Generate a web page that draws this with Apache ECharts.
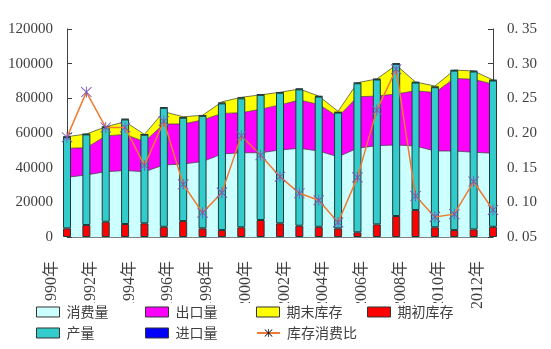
<!DOCTYPE html>
<html>
<head>
<meta charset="utf-8">
<script src="https://cdn.jsdelivr.net/npm/echarts@6/dist/echarts.min.js"></script>
<style>
  html, body { margin: 0; padding: 0; background: #fff; }
  #chart { width: 551px; height: 349px; }
</style>
</head>
<body>
<div id="chart"></div>
<script>
// Annual balance sheet, 1990-2012
const years = ['1990年','1991年','1992年','1993年','1994年','1995年','1996年','1997年','1998年','1999年','2000年','2001年','2002年','2003年','2004年','2005年','2006年','2007年','2008年','2009年','2010年','2011年','2012年'];

// demand side (stacked areas)
const consumption = [34400, 35800, 37700, 38300, 37700, 41500, 42100, 43500, 47900, 48600, 48600, 50200, 51200, 49600, 46300, 51200, 52700, 53100, 52500, 49600, 49600, 48900, 48300];
const exportsVol  = [16800, 15700, 20600, 20900, 17300, 23700, 23100, 24000, 23400, 23100, 25100, 26000, 27800, 26900, 23100, 29700, 28600, 29400, 31900, 33700, 41900, 42100, 39800];
const endStock    = [6700, 7900, 5300, 7300, 4200, 7100, 4200, 2700, 6700, 8900, 8300, 7300, 6400, 4800, 3100, 8100, 9900, 16700, 5000, 3800, 4800, 4800, 2500];

// supply side (stacked columns)
const initStock   = [5000, 6900, 8800, 7500, 7900, 5900, 9200, 5000, 4000, 5600, 9800, 7900, 6500, 5900, 5000, 2700, 7300, 12100, 15600, 5600, 4000, 4400, 5900];
const production  = [52700, 52300, 54600, 60300, 51100, 68600, 59600, 64900, 73100, 74400, 72200, 75300, 78700, 75100, 66800, 86000, 83600, 87700, 73500, 80800, 92000, 91100, 84400];
const importsVol  = [200, 200, 200, 300, 200, 300, 300, 300, 400, 600, 300, 300, 400, 300, 300, 300, 300, 400, 300, 300, 300, 300, 300];

// stock-to-use ratio (right axis)
const stockRatio  = [0.194, 0.259, 0.208, 0.208, 0.153, 0.217, 0.126, 0.085, 0.114, 0.196, 0.168, 0.137, 0.113, 0.103, 0.071, 0.136, 0.233, 0.292, 0.109, 0.079, 0.083, 0.130, 0.089];

const leftTicks = { min: 0, max: 120000, interval: 20000 };
const rightTicks = { min: 0.05, max: 0.35, interval: 0.05 };

const serif = "'Liberation Serif', 'Noto Sans CJK SC', serif";
const cjk = "'Noto Sans CJK SC', sans-serif";
const textColor = '#404040';
const asterisk = 'path://M9.2,0 L10.8,0 L10.8,20 L9.2,20 Z M0.4,1.6 L1.6,0.4 L19.6,18.4 L18.4,19.6 Z M18.4,0.4 L19.6,1.6 L1.6,19.6 L0.4,18.4 Z';

function areaSeries(name, data, color) {
  return {
    name, type: 'line', stack: 'demand', data,
    symbol: 'none', smooth: false,
    itemStyle: { color },
    lineStyle: { color: '#3a3a3a', width: 0.7 },
    areaStyle: { color, opacity: 1 },
    z: 1
  };
}
function barSeries(name, data, color) {
  return {
    name, type: 'bar', stack: 'supply', data,
    barWidth: 8,
    itemStyle: { color, borderColor: '#1d3b3b', borderWidth: 1 },
    z: 2
  };
}

// legend slots: [name, left, top]
const legendSlots = [
  ['消费量', 36, 305], ['出口量', 145, 305], ['期末库存', 256, 305], ['期初库存', 367, 305],
  ['产量', 36, 326], ['进口量', 145, 326], ['库存消费比', 256, 326]
];
const legends = legendSlots.map(([name, left, top]) => ({
  data: [name === '库存消费比' ? { name } : { name, icon: 'rect' }],
  left, top, padding: 0,
  itemWidth: 23, itemHeight: 10, itemGap: 0,
  itemStyle: name === '库存消费比' ? undefined : { borderColor: '#333', borderWidth: 1 },
  textStyle: { fontFamily: cjk, fontSize: 14, color: textColor, padding: [0, 0, 0, 2] },
  selectedMode: false,
  z: 60
}));

const option = {
  animation: false,
  backgroundColor: '#fff',
  grid: { left: 67, right: 58, top: 29, bottom: 112, containLabel: false },
  graphic: [{
    type: 'rect', left: 20, top: 303, z: 50,
    shape: { width: 440, height: 46 },
    style: { fill: '#fff' }
  }],
  legend: legends,
  xAxis: {
    type: 'category', data: years, boundaryGap: false,
    axisLine: { lineStyle: { color: '#808080', width: 1 } },
    axisTick: { inside: true, length: 4, interval: 0, lineStyle: { color: '#333' } },
    axisLabel: {
      interval: 1, rotate: 90, margin: 24,
      fontFamily: serif, fontSize: 16, color: textColor,
      verticalAlign: 'bottom', lineHeight: 30
    },
    splitLine: { show: false }
  },
  yAxis: [{
    type: 'value', ...leftTicks,
    axisLine: { show: true, lineStyle: { color: '#404040' } },
    axisTick: { show: true, inside: true, length: 5, lineStyle: { color: '#404040' } },
    axisLabel: {
      margin: 14, fontFamily: serif, fontSize: 15, color: textColor,
      formatter: v => String(v)
    },
    splitLine: { show: false }
  }, {
    type: 'value', ...rightTicks, position: 'right',
    axisLine: { show: true, lineStyle: { color: '#404040' } },
    axisTick: { show: true, inside: true, length: 5, lineStyle: { color: '#404040' } },
    axisLabel: {
      margin: 14, fontFamily: serif, fontSize: 15, color: textColor,
      formatter: v => v.toFixed(2).replace('.', '. ')
    },
    splitLine: { show: false }
  }],
  series: [
    areaSeries('消费量', consumption, '#CCFFFF'),
    areaSeries('出口量', exportsVol, '#FF00FF'),
    areaSeries('期末库存', endStock, '#FFFF00'),
    barSeries('期初库存', initStock, '#FF0000'),
    barSeries('产量', production, '#33CCCC'),
    barSeries('进口量', importsVol, '#0000FF'),
    {
      name: '库存消费比', type: 'line', yAxisIndex: 1, data: stockRatio,
      symbol: asterisk, symbolSize: 11,
      itemStyle: { color: '#7B5BB5', borderWidth: 0 },
      lineStyle: { color: '#F07A30', width: 1.5 },
      z: 5
    }
  ]
};

const chart = echarts.init(document.getElementById('chart'), null, { renderer: 'canvas' });
chart.setOption(option);
</script>
</body>
</html>
